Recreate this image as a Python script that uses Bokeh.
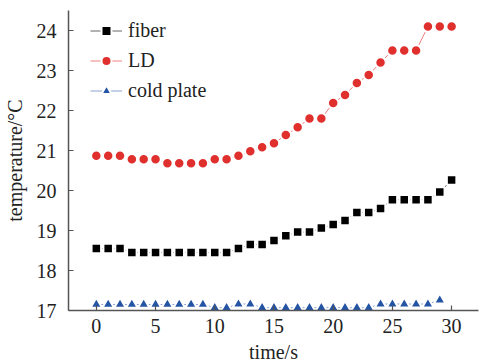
from bokeh.plotting import figure
from bokeh.models import FixedTicker, Range1d, Legend, LegendItem
from bokeh.embed import file_html
from bokeh.resources import INLINE

t_fiber = list(range(0, 31))
fiber = [18.55, 18.55, 18.55, 18.45, 18.45, 18.45, 18.45, 18.45, 18.45, 18.45,
         18.45, 18.45, 18.55, 18.65, 18.65, 18.75, 18.87, 18.96, 18.96, 19.06,
         19.15, 19.25, 19.45, 19.45, 19.55, 19.77, 19.77, 19.77, 19.77, 19.96, 20.26]

t_ld = list(range(0, 31))
ld = [20.87, 20.87, 20.87, 20.78, 20.78, 20.78, 20.68, 20.68, 20.68, 20.68,
      20.78, 20.78, 20.87, 20.98, 21.08, 21.18, 21.39, 21.58, 21.80, 21.80,
      22.19, 22.39, 22.69, 22.89, 23.20, 23.50, 23.50, 23.50, 24.10, 24.10, 24.10]

t_cold = list(range(0, 30))
cold = [17.15, 17.15, 17.15, 17.15, 17.15, 17.15, 17.15, 17.15, 17.15, 17.15,
        17.07, 17.07, 17.16, 17.16, 17.07, 17.07, 17.07, 17.07, 17.07, 17.07,
        17.07, 17.07, 17.07, 17.07, 17.16, 17.16, 17.16, 17.16, 17.16, 17.26]

x_ticks = [0, 5, 10, 15, 20, 25, 30]
y_ticks = [17, 18, 19, 20, 21, 22, 23, 24]

FONT = "Liberation Serif"

p = figure(width=480, height=365, output_backend="svg", toolbar_location=None,
           x_range=Range1d(-2.35, 32.27), y_range=Range1d(17, 24.5),
           min_border_left=66, min_border_right=2, min_border_top=10, min_border_bottom=10)
p.outline_line_color = None
p.grid.visible = False

r1l = p.line(t_fiber, fiber, line_color="#666666", line_width=1)
r1m = p.scatter(t_fiber, fiber, marker="square", size=9.5, fill_color="#000000",
                line_color="white", line_width=2)
r2l = p.line(t_ld, ld, line_color="#f28080", line_width=1)
r2m = p.scatter(t_ld, ld, marker="circle", size=10.5, fill_color="#e0302e",
                line_color="white", line_width=2)
r3l = p.line(t_cold, cold, line_color="#8aa2d2", line_width=1)
r3m = p.scatter(t_cold, cold, marker="triangle", size=11.5, fill_color="#2454a4",
                line_color="white", line_width=2)

for ax in (p.xaxis[0], p.yaxis[0]):
    ax.axis_line_color = "#555555"
    ax.axis_line_width = 1.5
    ax.major_tick_line_color = "#555555"
    ax.major_tick_line_width = 1.2
    ax.major_tick_in = 5
    ax.major_tick_out = 0
    ax.minor_tick_line_color = None
    ax.major_label_text_font = FONT
    ax.major_label_text_font_size = "20px"
    ax.major_label_text_color = "#222222"
    ax.axis_label_text_font = FONT
    ax.axis_label_text_font_size = "20px"
    ax.axis_label_text_font_style = "normal"
    ax.axis_label_text_color = "#222222"

p.xaxis[0].ticker = FixedTicker(ticks=x_ticks)
p.yaxis[0].ticker = FixedTicker(ticks=y_ticks)
p.xaxis[0].axis_label = "time/s"
p.yaxis[0].axis_label = "temperature/°C"
p.xaxis[0].major_label_standoff = 8
p.xaxis[0].axis_label_standoff = 5
p.yaxis[0].major_label_standoff = 12
p.yaxis[0].axis_label_standoff = 8

legend = Legend(items=[
    LegendItem(label="fiber", renderers=[r1l, r1m]),
    LegendItem(label="LD", renderers=[r2l, r2m]),
    LegendItem(label="cold plate", renderers=[r3l, r3m]),
], location=(22, 207))
legend.background_fill_alpha = 0
legend.border_line_color = None
legend.padding = 0
legend.margin = 0
legend.spacing = 5
legend.glyph_width = 32
legend.glyph_height = 25
legend.label_height = 25
legend.label_standoff = 6
legend.label_text_font = FONT
legend.label_text_font_size = "20px"
legend.label_text_color = "#222222"
p.add_layout(legend)

open("out.html", "w").write(file_html(p, INLINE))
